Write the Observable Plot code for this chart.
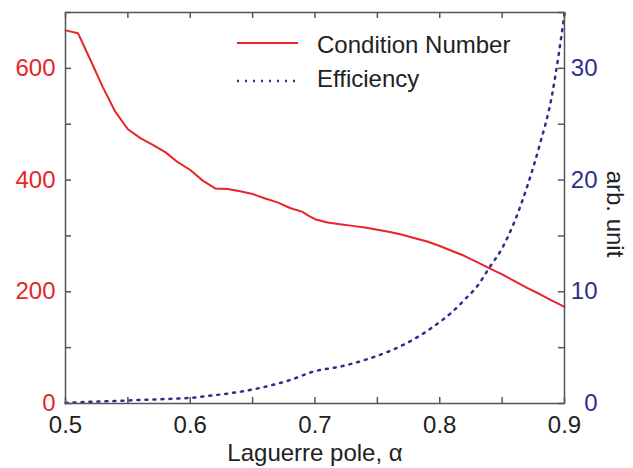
<!DOCTYPE html>
<html><head><meta charset="utf-8">
<script src="https://cdn.jsdelivr.net/npm/d3@7"></script>
<script src="https://cdn.jsdelivr.net/npm/@observablehq/plot@0.6"></script>
<style>body{margin:0;background:#fff;} svg{display:block;}</style>
</head><body><div id="chart"></div>
<script>
// Condition number (left axis)
const alphaCN = [0.50,0.51,0.52,0.53,0.54,0.55,0.56,0.57,0.58,0.59,0.60,0.61,0.62,0.63,0.64,0.65,0.66,0.67,0.68,0.69,0.695,0.70,0.71,0.72,0.73,0.74,0.75,0.76,0.77,0.78,0.79,0.80,0.81,0.82,0.83,0.84,0.85,0.86,0.87,0.88,0.89,0.90];
const conditionNumber = [668,663,615,566,522,491,475,463,450,432,418,399,385,384,380,375,367,360,350,343,336,330,324,321,318,315,311,307,302,296,290,282,273,264,253,242,231,219,207,196,184,173];
// Efficiency (right axis, arb. unit)
const alphaEff = [0.50,0.52,0.54,0.55,0.56,0.58,0.60,0.62,0.64,0.66,0.68,0.70,0.72,0.74,0.76,0.78,0.80,0.81,0.82,0.83,0.84,0.85,0.86,0.87,0.88,0.89,0.895,0.90];
const efficiency = [0.05,0.15,0.22,0.27,0.32,0.40,0.50,0.75,1.05,1.50,2.10,2.90,3.30,3.90,4.70,5.80,7.30,8.20,9.30,10.50,12.20,13.90,16.30,19.40,23.10,27.60,31.00,34.90];
const xTicks = [0.5,0.6,0.7,0.8,0.9];
const xMinor = [0.5,0.55,0.6,0.65,0.7,0.75,0.8,0.85,0.9];
const leftTicks = [0,200,400,600];
const leftMinor = [0,100,200,300,400,500,600,700];
const rightTicks = [0,10,20,30];
const rightMinor = [0,5,10,15,20,25,30,35];
const xLabel = "Laguerre pole, α";
const rightLabel = "arb. unit";
const legendLabels = ["Condition Number", "Efficiency"];

const red = "#e8242a", blue = "#2e2e8f", axisCol = "#555", textCol = "#222";
const leftMax = 700, rightMax = 35, k = leftMax / rightMax;
const W = 633, H = 468, mL = 65, mR = 69, mT = 12, mB = 65;
const fw = W - mL - mR, fh = H - mT - mB;
const font = "'Liberation Sans', Arial, Helvetica, sans-serif";
const dots = "2,6";

const cn = alphaCN.map((a, i) => ({a, v: conditionNumber[i]}));
const ef = alphaEff.map((a, i) => ({a, v: efficiency[i]}));

const chart = Plot.plot({
  width: W, height: H,
  marginLeft: mL, marginRight: mR, marginTop: mT, marginBottom: mB,
  style: {fontFamily: font, fontSize: "24px", background: "#fff"},
  x: {domain: [0.5, 0.9]},
  y: {domain: [0, leftMax]},
  marks: [
    Plot.ruleX(xMinor, {x: d => d, insetTop: fh - 6, stroke: axisCol, strokeWidth: 1.5}),
    Plot.ruleX(xMinor, {x: d => d, insetBottom: fh - 6, stroke: axisCol, strokeWidth: 1.5}),
    Plot.ruleY(leftMinor, {y: d => d, insetRight: fw - 6, stroke: axisCol, strokeWidth: 1.5}),
    Plot.ruleY(rightMinor, {y: d => d * k, insetLeft: fw - 6, stroke: axisCol, strokeWidth: 1.5}),
    Plot.line(ef, {x: "a", y: d => d.v * k, stroke: blue, strokeWidth: 2.5, strokeDasharray: dots, curve: "monotone-x"}),
    Plot.line(cn, {x: "a", y: "v", stroke: red, strokeWidth: 2}),
    Plot.frame({stroke: axisCol, strokeWidth: 1.5}),
    Plot.axisX({ticks: xTicks, tickSize: 0, tickPadding: 12, tickFormat: d3.format(".1f"), fontSize: 24, fill: textCol, label: null}),
    Plot.axisY({anchor: "left", ticks: leftTicks, tickSize: 0, tickPadding: 10, fontSize: 24, fill: red, label: null}),
    Plot.axisY({anchor: "right", ticks: rightTicks.map(d => d * k), tickFormat: d => d3.format("d")(d / k), tickSize: 0, tickPadding: 33, textAnchor: "end", fontSize: 24, fill: blue, label: null}),
    Plot.text([xLabel], {text: d => d, frameAnchor: "bottom", lineAnchor: "bottom", textAnchor: "middle", dy: 57, fontSize: 24, fill: textCol}),
    Plot.text([rightLabel], {text: d => d, frameAnchor: "right", textAnchor: "middle", lineAnchor: "middle", rotate: 90, dx: 50, dy: 6, fontSize: 24, fill: textCol})
  ]
});

// legend
const svg = d3.select(chart);
const lg = svg.append("g").attr("font-family", font).attr("font-size", 24).attr("fill", textCol).attr("text-anchor", "start");
lg.append("line").attr("x1", 237).attr("x2", 298).attr("y1", 43).attr("y2", 43).attr("stroke", red).attr("stroke-width", 2);
lg.append("line").attr("x1", 237).attr("x2", 298).attr("y1", 81).attr("y2", 81).attr("stroke", blue).attr("stroke-width", 2.5).attr("stroke-dasharray", dots);
lg.append("text").attr("x", 317).attr("y", 53).text(legendLabels[0]);
lg.append("text").attr("x", 317).attr("y", 87).text(legendLabels[1]);

document.getElementById("chart").appendChild(chart);
</script>
</body></html>
